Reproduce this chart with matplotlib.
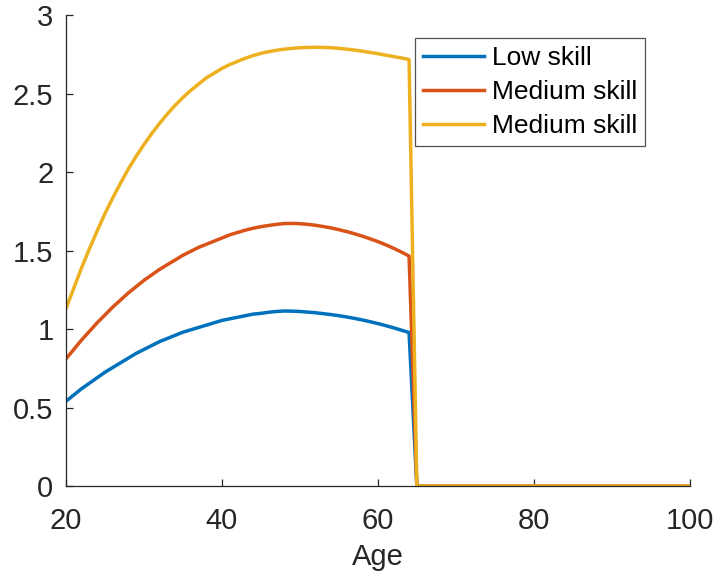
import matplotlib
matplotlib.use("Agg")
import matplotlib.pyplot as plt

plt.rcParams['font.family'] = ['Liberation Sans', 'DejaVu Sans']

# Alter 20..64 jaehrlich, danach 0 ab 65 bis 100
ages = list(range(20, 66)) + [100]

low = [0.54, 0.58, 0.62, 0.655, 0.69, 0.725, 0.755, 0.785, 0.815, 0.845,
       0.87, 0.895, 0.92, 0.94, 0.96, 0.98, 0.995, 1.01, 1.025, 1.04,
       1.055, 1.065, 1.075, 1.085, 1.095, 1.10, 1.107, 1.112, 1.115, 1.114,
       1.112, 1.108, 1.104, 1.098, 1.092, 1.085, 1.077, 1.068, 1.058, 1.047,
       1.035, 1.022, 1.008, 0.993, 0.978, 0, 0]
medium = [0.81, 0.87, 0.93, 0.985, 1.04, 1.09, 1.14, 1.185, 1.23, 1.27,
          1.31, 1.345, 1.38, 1.41, 1.44, 1.47, 1.495, 1.52, 1.54, 1.56,
          1.58, 1.60, 1.615, 1.63, 1.642, 1.652, 1.66, 1.667, 1.672, 1.673,
          1.671, 1.667, 1.661, 1.653, 1.644, 1.633, 1.621, 1.607, 1.592, 1.575,
          1.557, 1.537, 1.515, 1.491, 1.465, 0, 0]
high = [1.13, 1.26, 1.39, 1.51, 1.625, 1.735, 1.835, 1.93, 2.02, 2.10,
        2.175, 2.245, 2.31, 2.37, 2.425, 2.475, 2.52, 2.56, 2.60, 2.63,
        2.66, 2.685, 2.705, 2.725, 2.742, 2.756, 2.767, 2.776, 2.783, 2.788,
        2.792, 2.794, 2.795, 2.794, 2.792, 2.788, 2.783, 2.777, 2.770, 2.762,
        2.754, 2.745, 2.736, 2.727, 2.717, 0, 0]

labels = ["Low skill", "Medium skill", "Medium skill"]
colors = ["#0072BD", "#D95319", "#EDB120"]

fig = plt.figure(figsize=(7.17, 5.80), dpi=100)
ax = fig.add_axes([0.092, 0.162, 0.870, 0.812])

for series, lab, col in zip([low, medium, high], labels, colors):
    ax.plot(ages, series, color=col, linewidth=2.5, label=lab)

ax.set_xlim(20, 100)
ax.set_ylim(0, 3)
ax.set_xticks([20, 40, 60, 80, 100])
ax.set_yticks([0, 0.5, 1, 1.5, 2, 2.5, 3])
ax.set_yticklabels(["0", "0.5", "1", "1.5", "2", "2.5", "3"])
ax.set_xlabel("Age", fontsize=21, color="#262626", labelpad=6)

for s in ["top", "right"]:
    ax.spines[s].set_visible(False)
for s in ["left", "bottom"]:
    ax.spines[s].set_color("#262626")
    ax.spines[s].set_linewidth(0.9)
ax.tick_params(direction="in", length=5, width=0.9, colors="#262626",
               labelsize=21)
ax.tick_params(axis="x", pad=15)
ax.tick_params(axis="y", pad=9)

leg = ax.legend(loc="upper right", bbox_to_anchor=(0.928, 0.951), fontsize=19,
                frameon=True, fancybox=False, edgecolor="#262626",
                handlelength=2.3, handletextpad=0.3, borderpad=0.3,
                labelspacing=0.38, borderaxespad=0)
leg.get_frame().set_linewidth(0.9)

fig.savefig("out.png", dpi=100)
